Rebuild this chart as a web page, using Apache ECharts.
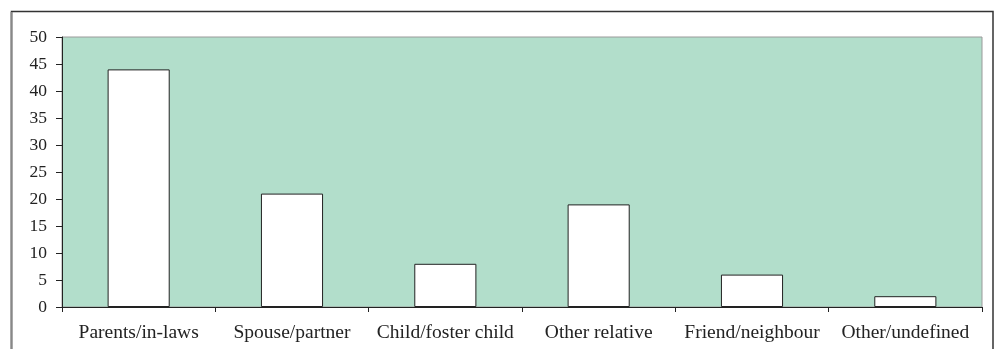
<!DOCTYPE html>
<html>
<head>
<meta charset="utf-8">
<script src="https://cdn.jsdelivr.net/npm/echarts@6/dist/echarts.min.js"></script>
<style>
  html, body { margin: 0; padding: 0; background: #ffffff; }
  #chart { width: 995px; height: 349px; }
</style>
</head>
<body>
<div id="chart"></div>
<script>
// Relationship categories and their counts
const categories = ['Parents/in-laws', 'Spouse/partner', 'Child/foster child', 'Other relative', 'Friend/neighbour', 'Other/undefined'];
const counts = [44, 21, 8, 19, 6, 2];
const yTicks = [0, 5, 10, 15, 20, 25, 30, 35, 40, 45, 50];

const chart = echarts.init(document.getElementById('chart'), null, { renderer: 'canvas' });

const serif = '"Liberation Serif", "Times New Roman", serif';

chart.setOption({
  animation: false,
  backgroundColor: '#ffffff',
  graphic: [
    {
      // outer frame around the chart
      type: 'rect',
      shape: { x: 11.5, y: 11.5, width: 981.5, height: 360 },
      style: { fill: 'none', stroke: '#333333', lineWidth: 1.5 },
      silent: true
    },
    {
      type: 'line',
      shape: { x1: 11.5, y1: 12, x2: 11.5, y2: 349 },
      style: { stroke: '#888888', lineWidth: 2 },
      silent: true
    }
  ],
  grid: {
    left: 62,
    right: 13,
    top: 37,
    bottom: 42,
    show: true,
    backgroundColor: '#b2decb',
    borderColor: '#9a9a9a',
    borderWidth: 1
  },
  xAxis: {
    type: 'category',
    data: categories,
    boundaryGap: true,
    axisLine: { show: true, lineStyle: { color: '#222222', width: 1 } },
    axisTick: { show: true, alignWithLabel: false, length: 5, lineStyle: { color: '#222222' } },
    axisLabel: {
      color: '#222222',
      fontFamily: serif,
      fontSize: 19.5,
      margin: 16,
      interval: 0
    },
    splitLine: { show: false }
  },
  yAxis: {
    type: 'value',
    min: yTicks[0],
    max: yTicks[yTicks.length - 1],
    interval: 5,
    axisLine: { show: true, lineStyle: { color: '#222222', width: 1 } },
    axisTick: { show: true, inside: false, length: 6, lineStyle: { color: '#222222' } },
    axisLabel: {
      color: '#222222',
      fontFamily: serif,
      fontSize: 17.5,
      margin: 15
    },
    splitLine: { show: false }
  },
  series: [
    {
      type: 'bar',
      data: counts,
      barWidth: '40.5%',
      itemStyle: {
        color: '#ffffff',
        borderColor: '#222222',
        borderWidth: 1
      }
    }
  ]
});
</script>
</body>
</html>
